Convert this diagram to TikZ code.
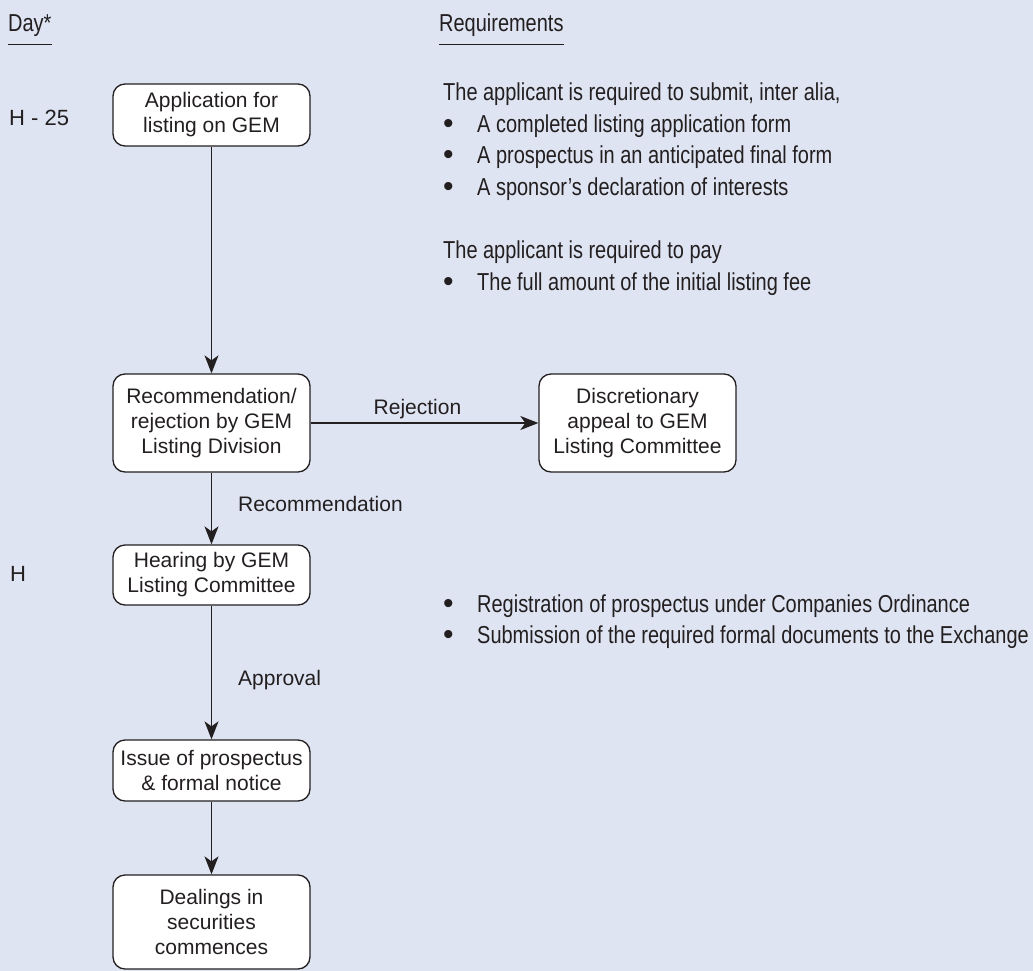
\documentclass[tikz,border=0pt]{standalone}
\usepackage{fontspec}
\setmainfont{Liberation Sans}
\newfontfamily\condfont[FakeStretch=0.815]{Liberation Sans}
\usepackage{tikz}
\usetikzlibrary{arrows.meta, positioning}
\definecolor{mybg}{RGB}{222,228,242}
\definecolor{mydark}{RGB}{35,31,32}
\tikzset{
  box/.style={rectangle, draw=mydark, fill=white, text=mydark,
    minimum width=197pt, align=center, font=\fontsize{21}{25}\selectfont,
    rounded corners=12pt, line width=1.3pt, inner sep=4pt},
  arrow/.style={-{Stealth[length=18pt,width=14pt,inset=5pt]}, line width=1.3pt, color=mydark},
  lbl/.style={font=\fontsize{21}{25}\selectfont, text=mydark, inner sep=0pt},
  req/.style={anchor=base west, font=\condfont\fontsize{24.5}{30}\selectfont,
    text=mydark, inner sep=0pt},
  hdr/.style={anchor=base west, font=\condfont\fontsize{24.5}{29}\selectfont,
    text=mydark, inner xsep=0pt, inner ysep=7pt},
  daylbl/.style={anchor=base west, font=\fontsize{22}{26}\selectfont,
    text=mydark, inner sep=0pt},
  rule/.style={draw=mydark, line width=1pt}
}
\newcommand{\bul}{\makebox[34pt][l]{\raisebox{-1.5pt}{\rmfamily\fontsize{30}{30}\selectfont\textbullet}}}

\begin{document}
\begin{tikzpicture}[x=1pt, y=-1pt]
  % Background
  \path[use as bounding box, fill=mybg] (0,0) rectangle (1033,971);
  % Column headings
  \node[hdr] (dayhdr) at (8,32) {Day*};
  \draw[rule] (dayhdr.south west) -- (dayhdr.south east);
  \node[hdr] (reqhdr) at (439,32) {Requirements};
  \draw[rule] (reqhdr.south west) -- (reqhdr.south east);
  % Days
  \node[daylbl] (dayA) at (9,126) {H - 25};
  \node[daylbl] (dayH) at (10,581) {H};
  % Steps
  \node[box, minimum height=62pt] (apply) at (211.5,115) {Application for\\listing on GEM};
  \node[box, minimum height=98pt] (review) at (211.5,423) {Recommendation/\\rejection by GEM\\Listing Division};
  \node[box, minimum height=98pt] (appeal) at (637.5,423) {Discretionary\\appeal to GEM\\Listing Committee};
  \node[box, minimum height=60pt] (hearing) at (211.5,575) {Hearing by GEM\\Listing Committee};
  \node[box, minimum height=61pt] (issue) at (211.5,770.5) {Issue of prospectus\\\& formal notice};
  \node[box, minimum height=94pt] (dealing) at (211.5,922) {Dealings in\\securities\\commences};
  % Connectors
  \draw[arrow] (apply) -- (review);
  \draw[arrow] (review) -- node[lbl, above, xshift=-7pt, yshift=3.5pt] {Rejection} (appeal);
  \draw[arrow] (review) -- node[lbl, anchor=west, xshift=26pt, yshift=5pt] {Recommendation} (hearing);
  \draw[arrow] (hearing) -- node[lbl, anchor=west, xshift=26pt, yshift=-8pt] {Approval} (issue);
  \draw[arrow] (issue) -- (dealing);
  % Requirements
  \node[req] (intro1) at (443,101) {The applicant is required to submit, inter alia,};
  \node[req] (item1) at (443,132) {\bul A completed listing application form};
  \node[req] (item2) at (443,163.5) {\bul A prospectus in an anticipated final form};
  \node[req] (item3) at (443,195) {\bul A sponsor’s declaration of interests};
  \node[req] (intro2) at (443,258) {The applicant is required to pay};
  \node[req] (item4) at (443,290) {\bul The full amount of the initial listing fee};
  \node[req] (item5) at (443,612) {\bul Registration of prospectus under Companies Ordinance};
  \node[req] (item6) at (443,643) {\bul Submission of the required formal documents to the Exchange};
\end{tikzpicture}
\end{document}
